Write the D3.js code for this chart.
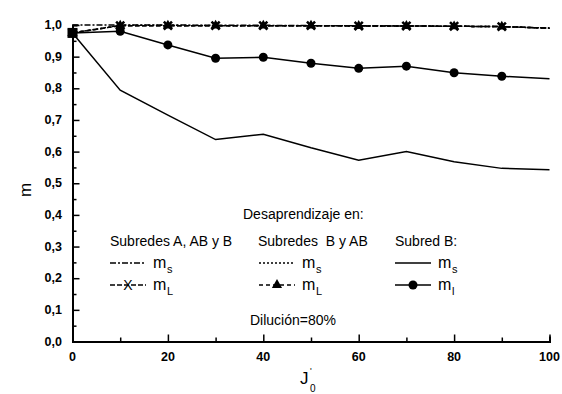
<!DOCTYPE html>
<html lang="es">
<head>
<meta charset="UTF-8">
<title>m vs J0</title>
<script src="https://d3js.org/d3.v7.min.js"></script>
<style>
  body { margin: 0; background: #fff; }
  svg text { font-family: "Liberation Sans", Arial, sans-serif; fill: #000; white-space: pre; }
  .tick-label { font-size: 12.5px; font-weight: bold; }
  .legend { font-size: 14px; }
</style>
</head>
<body>
<svg width="562" height="394"></svg>
<script>
// J0 values
const jValues = [0, 10, 20, 30, 40, 50, 60, 70, 80, 90, 100];

// Subredes A, AB y B
const msABB = [1.0, 1.0, 1.0, 0.999, 0.999, 0.998, 0.998, 0.997, 0.996, 0.995, 0.99];
const mLABB = [0.975, 0.998, 0.998, 0.998, 0.998, 0.998, 0.997, 0.997, 0.996, 0.995, 0.99];
// Subredes B y AB
const msBAB = [0.975, 0.999, 0.999, 0.998, 0.998, 0.998, 0.997, 0.997, 0.996, 0.995, 0.99];
const mLBAB = [0.975, 0.998, 0.998, 0.998, 0.998, 0.998, 0.997, 0.997, 0.996, 0.995, 0.99];
// Subred B
const msB = [0.975, 0.794, 0.715, 0.638, 0.655, 0.612, 0.573, 0.600, 0.568, 0.547, 0.543];
const mlB = [0.975, 0.980, 0.937, 0.895, 0.898, 0.879, 0.863, 0.870, 0.849, 0.838, 0.830];

const xTicks = [0, 20, 40, 60, 80, 100];
const yTicks = [0, 0.1, 0.2, 0.3, 0.4, 0.5, 0.6, 0.7, 0.8, 0.9, 1.0];

const svg = d3.select("svg");
const x = d3.scaleLinear().domain([0, 100]).range([72.5, 549.5]);
const y = d3.scaleLinear().domain([0, 1]).range([341.5, 25]);

const fmt = d => d3.format(".1f")(d).replace(".", ",");

// axes
const xAxis = svg.append("g").attr("transform", `translate(0,${y(0)})`)
  .call(d3.axisBottom(x).tickValues(d3.range(0, 101, 10)).tickSize(-5).tickFormat(""));
xAxis.selectAll(".tick line").attr("y2", (d) => d % 20 === 0 ? -7 : -4);
const yAxis = svg.append("g").attr("transform", `translate(${x(0)},0)`)
  .call(d3.axisLeft(y).tickValues(d3.range(0, 21).map(i => i / 20)).tickSize(-5).tickFormat(""));
yAxis.selectAll(".tick line").attr("x2", (d, i) => i % 2 === 0 ? 7 : 4);
svg.selectAll(".domain").attr("stroke", "#000").attr("stroke-width", 2);
svg.selectAll(".tick line").attr("stroke", "#000").attr("stroke-width", 1.5);

svg.append("g").selectAll("text").data(xTicks).join("text")
  .attr("class", "tick-label").attr("x", d => x(d)).attr("y", 361)
  .attr("text-anchor", "middle").text(d => d);
svg.append("g").selectAll("text").data(yTicks).join("text")
  .attr("class", "tick-label").attr("x", 62).attr("y", d => y(d) + 4)
  .attr("text-anchor", "end").text(fmt);

// axis titles
svg.append("text").attr("transform", "translate(31,190) rotate(-90)")
  .attr("text-anchor", "middle").style("font-size", "17px").text("m");
svg.append("text").attr("x", 300).attr("y", 384).style("font-size", "17px").text("J");
svg.append("text").attr("x", 310).attr("y", 392).style("font-size", "10px").text("0");
svg.append("text").attr("x", 310).attr("y", 374).style("font-size", "9px").text("'");

// series
const line = d3.line().x((d, i) => x(jValues[i])).y(d => y(d));
const series = [
  { data: msB, dash: null },
  { data: mlB, dash: null },
  { data: msBAB, dash: "2,2" },
  { data: mLBAB, dash: "4,3" },
  { data: mLABB, dash: "5,2" },
  { data: msABB, dash: "6,2,2,2" }
];
svg.append("g").selectAll("path").data(series).join("path")
  .attr("d", d => line(d.data)).attr("fill", "none")
  .attr("stroke", "#000").attr("stroke-width", 1.5)
  .attr("stroke-dasharray", d => d.dash);

// markers (0..90)
const idx = d3.range(0, 10);
svg.append("g").selectAll("circle").data(idx).join("circle")
  .attr("cx", i => x(jValues[i])).attr("cy", i => y(mlB[i])).attr("r", 4.5);
const tri = d3.symbol().type(d3.symbolTriangle).size(45);
svg.append("g").selectAll("path").data(idx).join("path")
  .attr("transform", i => `translate(${x(jValues[i])},${y(mLBAB[i])})`).attr("d", tri);
const cross = d3.symbol().type(d3.symbolX).size(45);
svg.append("g").selectAll("path").data(idx).join("path")
  .attr("transform", i => `translate(${x(jValues[i])},${y(mLABB[i])})`).attr("d", cross)
  .attr("stroke", "#000").attr("stroke-width", 2.5);
svg.append("rect").attr("x", x(0) - 5).attr("y", y(0.975) - 5).attr("width", 10).attr("height", 10);

// legend
const lg = svg.append("g").attr("class", "legend");
lg.append("text").attr("x", 243).attr("y", 219).text("Desaprendizaje en:");
lg.append("text").attr("x", 110).attr("y", 246).text("Subredes A, AB y B");
lg.append("text").attr("x", 258).attr("y", 246).text("Subredes  B y AB");
lg.append("text").attr("x", 395).attr("y", 246).text("Subred B:");
lg.append("text").attr("x", 250).attr("y", 325).text("Dilución=80%");

const legendItems = [
  { x0: 110, y0: 263, dash: "6,2,2,2", mark: null, sub: "s" },
  { x0: 110, y0: 285, dash: "5,2", mark: "x", sub: "L" },
  { x0: 259, y0: 263, dash: "2,2", mark: null, sub: "s" },
  { x0: 259, y0: 285, dash: "4,3", mark: "tri", sub: "L" },
  { x0: 395, y0: 263, dash: null, mark: null, sub: "s" },
  { x0: 395, y0: 285, dash: null, mark: "circle", sub: "l" }
];
legendItems.forEach(d => {
  lg.append("line").attr("x1", d.x0).attr("x2", d.x0 + 36).attr("y1", d.y0).attr("y2", d.y0)
    .attr("stroke", "#000").attr("stroke-width", 1.3).attr("stroke-dasharray", d.dash);
  const cx = d.x0 + 18;
  if (d.mark === "circle") lg.append("circle").attr("cx", cx).attr("cy", d.y0).attr("r", 4.5);
  if (d.mark === "tri") lg.append("path").attr("transform", `translate(${cx},${d.y0})`).attr("d", tri);
  if (d.mark === "x") lg.append("text").attr("x", cx).attr("y", d.y0 + 5).attr("text-anchor", "middle").text("X");
  lg.append("text").attr("x", d.x0 + 43).attr("y", d.y0 + 5).style("font-size", "16px").text("m");
  lg.append("text").attr("x", d.x0 + 57).attr("y", d.y0 + 10).style("font-size", "11px").text(d.sub);
});
</script>
</body>
</html>
